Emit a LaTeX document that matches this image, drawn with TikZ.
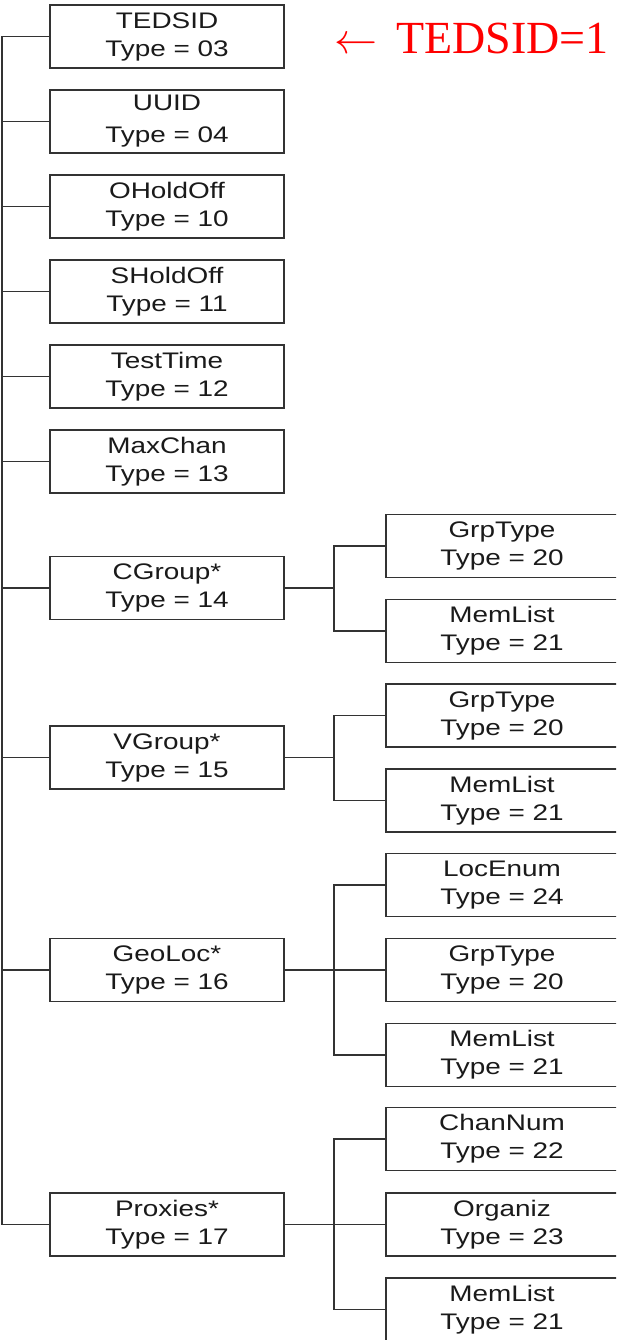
\documentclass[tikz,border=0pt]{standalone}
\usepackage{fontspec}
\usepackage{graphicx}
\setmainfont{Liberation Sans}[FakeStretch=1.24]
\newfontfamily\redserif{Liberation Serif}
\definecolor{lc}{HTML}{333333}
\definecolor{tc}{HTML}{1A1A1A}
\begin{document}
\begin{tikzpicture}[x=1pt,y=-1pt,
  box/.style={draw=lc, line width=1.4pt, minimum width=234pt, minimum height=63pt,
    inner sep=0pt, align=center, text=tc, font=\fontsize{22.5}{28}\selectfont},
  rbox/.style={box, minimum width=232pt},
  conn/.style={draw=lc, line width=1.4pt},
  redlab/.style={text=red, inner sep=0pt, font=\redserif\fontsize{46}{50}\selectfont}]
\useasboundingbox (0,0) rectangle (616,1340);
\clip (0,0) rectangle (616,1340);
\fill[white] (0,0) rectangle (616,1340);
\coordinate (trunk) at (2,0);
\coordinate (bx) at (334,0);
% left column
\node[box] (tedsid) at (167,36.5) {TEDSID\\Type = 03};
\node[box] (uuid) at (167,121.5) {UUID\\[4pt]Type = 04};
\node[box] (ohold) at (167,206.5) {OHoldOff\\Type = 10};
\node[box] (shold) at (167,291.5) {SHoldOff\\Type = 11};
\node[box] (test) at (167,376.5) {TestTime\\Type = 12};
\node[box] (maxch) at (167,461.5) {MaxChan\\Type = 13};
\node[box] (cgroup) at (167,588) {CGroup*\\Type = 14};
\node[box] (vgroup) at (167,757.5) {VGroup*\\Type = 15};
\node[box] (geoloc) at (167,970) {GeoLoc*\\Type = 16};
\node[box] (proxies) at (167,1224.5) {Proxies*\\Type = 17};
% right column
\node[rbox] (cg1) at (502,546) {GrpType\\Type = 20};
\node[rbox] (cg2) at (502,631) {MemList\\Type = 21};
\node[rbox] (vg1) at (502,715.5) {GrpType\\Type = 20};
\node[rbox] (vg2) at (502,800.5) {MemList\\Type = 21};
\node[rbox] (gl1) at (502,885) {LocEnum\\Type = 24};
\node[rbox] (gl2) at (502,970) {GrpType\\Type = 20};
\node[rbox] (gl3) at (502,1055) {MemList\\Type = 21};
\node[rbox] (px1) at (502,1139) {ChanNum\\Type = 22};
\node[rbox] (px2) at (502,1224.5) {Organiz\\Type = 23};
\node[rbox] (px3) at (502,1309.5) {MemList\\Type = 21};
% red annotation
\node[redlab, anchor=base east] (note) at (609,54) {\resizebox{43pt}{!}{$\leftarrow$}\hspace{19pt}TEDSID=1};
% trunk
\draw[conn] (tedsid.west -| trunk) -- (proxies.west -| trunk);
\foreach \n in {tedsid,uuid,ohold,shold,test,maxch,cgroup,vgroup,geoloc,proxies}
  \draw[conn] (\n.west) -- (\n.west -| trunk);
% branches
\foreach \n in {cgroup,vgroup,geoloc,proxies}
  \draw[conn] (\n.east) -- (\n.east -| bx);
\draw[conn] (cg1.west) -- (cg1.west -| bx) |- (cg2.west);
\draw[conn] (vg1.west) -- (vg1.west -| bx) |- (vg2.west);
\draw[conn] (gl1.west) -- (gl1.west -| bx) |- (gl3.west);
\draw[conn] (gl2.west) -- (gl2.west -| bx);
\draw[conn] (px1.west) -- (px1.west -| bx) |- (px3.west);
\draw[conn] (px2.west) -- (px2.west -| bx);
\end{tikzpicture}
\end{document}
